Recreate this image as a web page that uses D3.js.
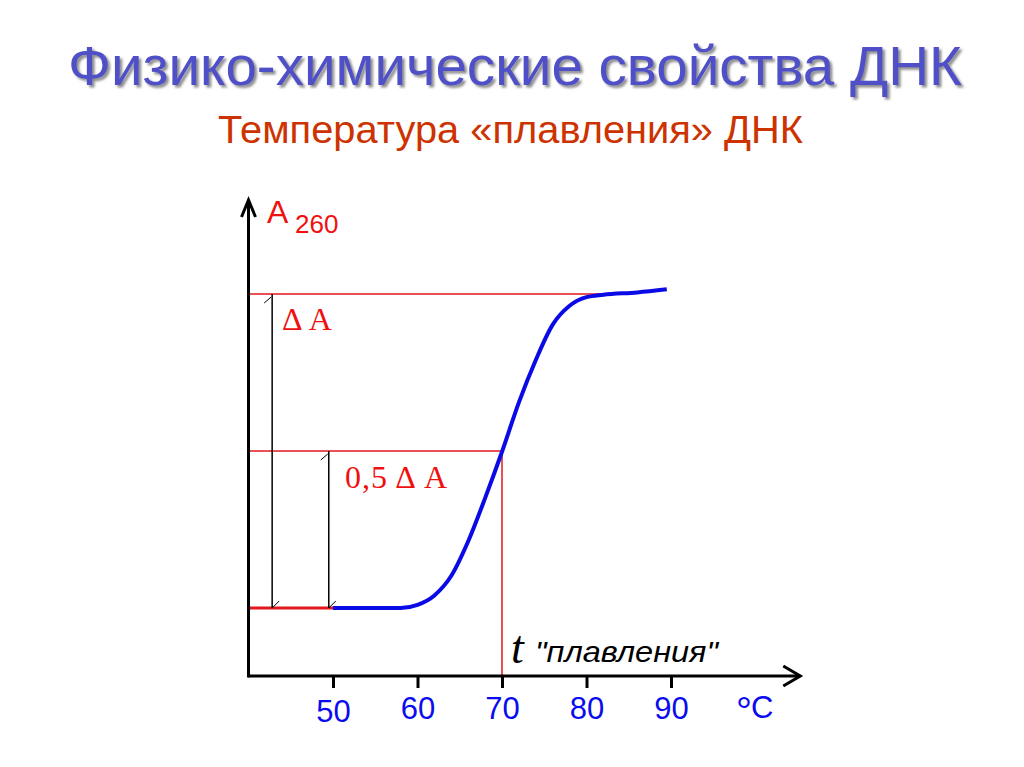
<!DOCTYPE html>
<html>
<head>
<meta charset="utf-8">
<script src="https://cdn.jsdelivr.net/npm/d3@7"></script>
<style>
  body { margin: 0; background: #fff; }
  svg { display: block; }
</style>
</head>
<body>
<svg id="drawing_region"></svg>
<script>
// melting curve of DNA
const temps = [50, 54, 58, 60, 62, 64, 66, 68, 70, 72, 74, 76, 78, 80, 82, 86, 89.5];
const a260  = [1.000, 1.000, 1.000, 1.004, 1.016, 1.041, 1.085, 1.140, 1.199, 1.262, 1.316, 1.361, 1.385, 1.396, 1.399, 1.402, 1.406];
const tickLabels = [50, 60, 70, 80, 90];

// reference levels of the figure
const levelLow = 1.0;
const levelHigh = 1.4;
const levelHalf = 1.2;
const tMelt = 70;
const tHighEnd = 81.6;
const dimTemps = [42.8, 49.5];   // the two black double-arrow lines

const titleText = 'Физико-химические свойства ДНК';
const subtitleText = 'Температура «плавления» ДНК';

class MeltChart {
    constructor(config, data) {
        this.config = {
            parent: config.parent,
            width: config.width || 1024,
            height: config.height || 767
        };
        this.data = data;
        this.init();
    }

    init() {
        let self = this;

        self.svg = d3.select(self.config.parent)
            .attr('width', self.config.width)
            .attr('height', self.config.height);

        const defs = self.svg.append('defs');
        defs.append('filter')
            .attr('id', 'shadow')
            .attr('x', '-5%').attr('y', '-20%')
            .attr('width', '110%').attr('height', '150%')
            .append('feDropShadow')
            .attr('dx', 2.5).attr('dy', 2.5)
            .attr('stdDeviation', 1.2)
            .attr('flood-color', '#808080')
            .attr('flood-opacity', 0.9);

        self.xscale = d3.scaleLinear()
            .domain([40, 90])
            .range([248.5, 671]);

        self.yscale = d3.scaleLinear()
            .domain([levelLow, levelHigh])
            .range([608, 294]);

        self.line = d3.line()
            .x(d => self.xscale(d.t))
            .y(d => self.yscale(d.a))
            .curve(d3.curveMonotoneX);

        self.xaxis = d3.axisBottom(self.xscale)
            .tickValues(tickLabels)
            .tickSize(12)
            .tickPadding(9)
            .tickSizeOuter(0);

        self.x0 = 40;
        self.xEnd = 105.3;
        self.yBottom = self.yscale.invert(676);
        self.yTop = self.yscale.invert(200);
    }

    update() {
        let self = this;
        self.render();
    }

    render() {
        let self = this;
        const xs = self.xscale, ys = self.yscale;

        // titles
        self.svg.append('text')
            .attr('x', 68).attr('y', 85)
            .attr('textLength', 894)
            .attr('lengthAdjust', 'spacingAndGlyphs')
            .attr('font-family', '"Liberation Sans", Arial, sans-serif')
            .attr('font-size', 55)
            .attr('fill', '#4f4fc8')
            .attr('filter', 'url(#shadow)')
            .text(titleText);

        self.svg.append('text')
            .attr('x', 218).attr('y', 143)
            .attr('textLength', 585)
            .attr('lengthAdjust', 'spacingAndGlyphs')
            .attr('font-family', '"Liberation Sans", Arial, sans-serif')
            .attr('font-size', 38)
            .attr('fill', '#cc3300')
            .text(subtitleText);

        const g = self.svg.append('g');

        // red guide lines
        const guides = [
            {x1: self.x0, y1: levelHigh, x2: tHighEnd, y2: levelHigh, w: 1.5},
            {x1: self.x0, y1: levelHalf, x2: tMelt, y2: levelHalf, w: 1.5},
            {x1: tMelt, y1: levelHalf, x2: tMelt, y2: self.yBottom, w: 1.5},
            {x1: self.x0, y1: levelLow, x2: temps[0], y2: levelLow, w: 3}
        ];
        g.selectAll('.guide')
            .data(guides)
            .enter()
            .append('line')
            .attr('class', 'guide')
            .attr('x1', d => xs(d.x1)).attr('y1', d => ys(d.y1))
            .attr('x2', d => xs(d.x2)).attr('y2', d => ys(d.y2))
            .attr('stroke', '#e3161c')
            .attr('stroke-width', d => d.w);

        // black dimension lines with small arrow ticks
        const dims = [
            {t: dimTemps[0], top: levelHigh, bottom: levelLow},
            {t: dimTemps[1], top: levelHalf, bottom: levelLow}
        ];
        const dg = g.selectAll('.dim')
            .data(dims)
            .enter()
            .append('g')
            .attr('class', 'dim');
        dg.append('line')
            .attr('x1', d => xs(d.t)).attr('y1', d => ys(d.top))
            .attr('x2', d => xs(d.t)).attr('y2', d => ys(d.bottom))
            .attr('stroke', '#000').attr('stroke-width', 1.5);
        dg.append('line')
            .attr('x1', d => xs(d.t) - 8).attr('y1', d => ys(d.top) + 9)
            .attr('x2', d => xs(d.t) - 1).attr('y2', d => ys(d.top) + 3)
            .attr('stroke', '#000').attr('stroke-width', 1);
        dg.append('line')
            .attr('x1', d => xs(d.t)).attr('y1', d => ys(d.bottom))
            .attr('x2', d => xs(d.t) + 7).attr('y2', d => ys(d.bottom) - 7)
            .attr('stroke', '#000').attr('stroke-width', 1);

        // melting curve
        g.append('path')
            .attr('d', self.line(self.data))
            .attr('fill', 'none')
            .attr('stroke', '#0a0ae6')
            .attr('stroke-width', 4)
            .attr('stroke-linejoin', 'round');

        // x axis with ticks
        const xg = g.append('g')
            .attr('transform', `translate(0, ${ys(self.yBottom)})`)
            .call(self.xaxis);
        xg.select('.domain').remove();
        xg.selectAll('.tick line')
            .attr('stroke', '#000')
            .attr('stroke-width', 3);
        xg.selectAll('.tick text')
            .attr('font-family', '"Liberation Sans", Arial, sans-serif')
            .attr('font-size', 31)
            .attr('fill', '#0b0bf0')
            .attr('dy', d => d === 50 ? '0.8em' : '0.7em');

        // axis lines with open arrow heads
        const ax = g.append('g')
            .attr('stroke', '#000')
            .attr('stroke-width', 3)
            .attr('fill', 'none');
        ax.append('line')
            .attr('x1', xs(self.x0)).attr('y1', ys(self.yBottom))
            .attr('x2', xs(self.xEnd)).attr('y2', ys(self.yBottom));
        ax.append('line')
            .attr('x1', xs(self.x0)).attr('y1', ys(self.yBottom) + 1.5)
            .attr('x2', xs(self.x0)).attr('y2', ys(self.yTop));
        ax.append('path')
            .attr('d', `M${xs(self.xEnd) - 17},${ys(self.yBottom) - 10} L${xs(self.xEnd)},${ys(self.yBottom)} L${xs(self.xEnd) - 17},${ys(self.yBottom) + 10}`);
        ax.append('path')
            .attr('d', `M${xs(self.x0) - 7},${ys(self.yTop) + 17} L${xs(self.x0)},${ys(self.yTop)} L${xs(self.x0) + 7},${ys(self.yTop) + 17}`);

        // labels
        const yl = g.append('text')
            .attr('x', 267).attr('y', 223)
            .attr('font-family', '"Liberation Sans", Arial, sans-serif')
            .attr('fill', '#f01010');
        yl.append('tspan').attr('font-size', 32).text('A');
        yl.append('tspan').attr('font-size', 26).attr('x', 295).attr('dy', 10).text('260');

        const unit = g.append('text')
            .attr('x', 736).attr('y', 718)
            .attr('font-family', '"Liberation Sans", Arial, sans-serif')
            .attr('fill', '#0b0bf0');
        unit.append('tspan').attr('font-size', 40).attr('dy', 7).text('°');
        unit.append('tspan').attr('font-size', 31).attr('dy', -7).attr('x', 751).text('C');

        g.append('text')
            .attr('x', 282).attr('y', 330)
            .attr('font-family', '"Liberation Serif", "Times New Roman", serif')
            .attr('font-size', 32)
            .attr('fill', '#f01010')
            .text('Δ A');

        g.append('text')
            .attr('x', 345).attr('y', 488)
            .attr('textLength', 102)
            .attr('font-family', '"Liberation Serif", "Times New Roman", serif')
            .attr('font-size', 32)
            .attr('fill', '#f01010')
            .text('0,5 Δ A');

        g.append('text')
            .attr('x', 511).attr('y', 663)
            .attr('font-family', '"Liberation Serif", "Times New Roman", serif')
            .attr('font-style', 'italic')
            .attr('font-size', 46)
            .attr('fill', '#000')
            .text('t');

        g.append('text')
            .attr('x', 535).attr('y', 662)
            .attr('textLength', 183)
            .attr('lengthAdjust', 'spacingAndGlyphs')
            .attr('font-family', '"Liberation Sans", Arial, sans-serif')
            .attr('font-style', 'italic')
            .attr('font-size', 30)
            .attr('fill', '#000')
            .text('"плавления"');
    }
}

const data = temps.map((t, i) => ({t: t, a: a260[i]}));
const chart = new MeltChart({parent: '#drawing_region', width: 1024, height: 767}, data);
chart.update();
</script>
</body>
</html>
